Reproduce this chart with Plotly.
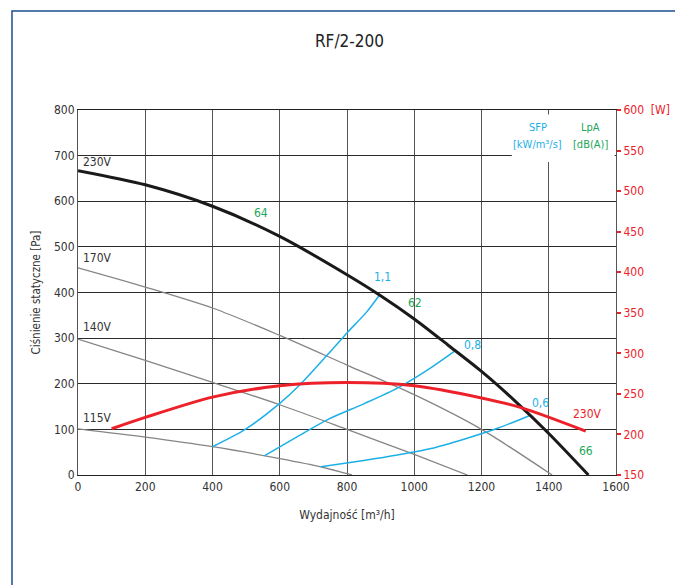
import plotly.graph_objects as go

# ---- data ----
flow_230 = [0, 200, 400, 600, 800, 900, 1000, 1100, 1200, 1300, 1400, 1518]
pres_230 = [667, 636, 589, 523, 439, 393, 342, 285, 227, 162, 91, 0]

flow_170 = [0, 200, 400, 600, 800, 1000, 1200, 1410]
pres_170 = [454, 412, 366, 306, 241, 176, 100, 0]

flow_140 = [0, 200, 400, 600, 800, 1000, 1158]
pres_140 = [298, 251, 203, 154, 100, 45, 0]

flow_115 = [0, 200, 400, 600, 722, 815]
pres_115 = [101, 83, 62, 36, 18, 0]

sfp11_flow = [400, 484, 514, 600, 663, 744, 802, 858, 895]
sfp11_pres = [62, 94, 108, 157, 200, 265, 313, 357, 393]

sfp08_flow = [554, 650, 744, 850, 951, 1049, 1119]
sfp08_pres = [42, 83, 122, 156, 191, 235, 271]

sfp06_flow = [722, 850, 950, 1050, 1150, 1250, 1342]
sfp06_pres = [18, 32, 44, 58, 79, 103, 130]

power_flow = [100, 200, 400, 600, 800, 1000, 1200, 1318, 1510]
power_w = [207, 221, 246, 260, 264, 260, 245, 233, 204]

y_ticks = [0, 100, 200, 300, 400, 500, 600, 700, 800]
x_ticks = [0, 200, 400, 600, 800, 1000, 1200, 1400, 1600]
y2_ticks = [150, 200, 250, 300, 350, 400, 450, 500, 550, 600]
y2_labels = ["150", "200", "250", "300", "350", "400", "450", "500", "550", "600  [W]"]

FONT = "DejaVu Sans Condensed, Liberation Sans Narrow, Roboto, sans-serif"
BLUE = "#1cb0e6"
GREEN = "#21a658"
RED = "#ec2129"
GRAY = "#858585"

fig = go.Figure()

def add_line(x, y, color, width, yaxis="y"):
    fig.add_trace(go.Scatter(x=x, y=y, mode="lines", yaxis=yaxis,
                             line=dict(color=color, width=width, shape="spline", smoothing=0.8),
                             hoverinfo="skip", showlegend=False))

add_line(flow_170, pres_170, GRAY, 1.3)
add_line(flow_140, pres_140, GRAY, 1.3)
add_line(flow_115, pres_115, GRAY, 1.3)
add_line(sfp11_flow, sfp11_pres, BLUE, 1.5)
add_line(sfp08_flow, sfp08_pres, BLUE, 1.5)
add_line(sfp06_flow, sfp06_pres, BLUE, 1.5)
add_line(power_flow, power_w, RED, 3, yaxis="y2")
add_line(flow_230, pres_230, "#1a1a1a", 3)

ann = []
def text(x, y, s, color, size=12, xanchor="center"):
    ann.append(dict(x=x, y=y, xref="x", yref="y", text=s, showarrow=False,
                    font=dict(color=color, size=size, family=FONT), xanchor=xanchor))

text(10, 686, "230V", "#333", xanchor="left")
text(10, 476, "170V", "#333", xanchor="left")
text(10, 325, "140V", "#333", xanchor="left")
text(10, 125, "115V", "#333", xanchor="left")
text(545, 574, "64", GREEN)
text(1003, 378, "62", GREEN)
text(1512, 53, "66", GREEN)
text(907, 434, "1,1", BLUE)
text(1172, 284, "0,8", BLUE)
text(1376, 158, "0,6", BLUE)
text(1514, 133, "230V", RED)
text(1368, 762, "SFP", BLUE, size=11)
text(1368, 724, "[kW/m³/s]", BLUE, size=11)
text(1523, 762, "LpA", GREEN, size=11)
text(1523, 724, "[dB(A)]", GREEN, size=11)

fig.update_layout(
    width=683, height=585,
    margin=dict(l=70, r=75, t=102, b=118),
    paper_bgcolor="white", plot_bgcolor="white",
    font=dict(family=FONT, size=12, color="#333"),
    title=dict(text="RF/2-200", x=0.5, xanchor="center", y=0.944, yanchor="middle",
               font=dict(size=17, color="#222", family=FONT)),
    annotations=ann,
    shapes=[
        dict(type="rect", xref="x", yref="y", x0=1290, x1=1596, y0=686, y1=790,
             fillcolor="white", line=dict(width=0), layer="between"),
        dict(type="rect", xref="paper", yref="paper", x0=-0.1227, x1=1.1208,
             y0=-0.36, y1=1.271, line=dict(color="#1d4f8f", width=1.5),
             fillcolor="rgba(0,0,0,0)", layer="below"),
    ],
    xaxis=dict(range=[0, 1600], tickvals=x_ticks, showgrid=True, gridcolor="#555",
               gridwidth=1, showline=True, linecolor="#222", linewidth=1.2, mirror=True,
               zeroline=False, ticks="", tickfont=dict(size=12, color="#333"),
               title=dict(text="Wydajność [m³/h]", font=dict(size=12, color="#333"),
                          standoff=18)),
    yaxis=dict(range=[0, 800], tickvals=y_ticks, showgrid=True, gridcolor="#2a2a2a",
               gridwidth=1, showline=True, linecolor="#555", linewidth=1.2, mirror=True,
               zeroline=False, ticks="", tickfont=dict(size=12, color="#333"),
               title=dict(text="Ciśnienie statyczne [Pa]", font=dict(size=11.5, color="#333"),
                          standoff=10)),
    yaxis2=dict(range=[150, 600], overlaying="y", side="right", tickvals=y2_ticks,
                ticktext=y2_labels, showgrid=False, zeroline=False, showline=False,
                ticks="outside", ticklen=4, tickcolor=RED, tickwidth=1.5,
                tickfont=dict(size=12, color=RED)),
)

fig.write_html("out.html")
